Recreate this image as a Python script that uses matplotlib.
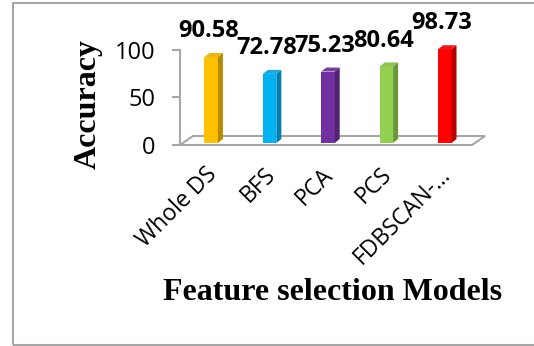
import numpy as np
import matplotlib
matplotlib.use("Agg")
import matplotlib.pyplot as plt
from matplotlib.patches import Polygon, Rectangle
from matplotlib.colors import to_rgb

models = ["Whole DS", "BFS", "PCA", "PCS", "FDBSCAN-…"]
accuracy = [90.58, 72.78, 75.23, 80.64, 98.73]
bar_colors = ["#FFC000", "#00B0F0", "#7030A0", "#92D050", "#FF0000"]
yticks = [0, 50, 100]

def shade(c, f):
    r, g, b = to_rgb(c)
    return (r * f, g * f, b * f)

def tint(c, f):
    r, g, b = to_rgb(c)
    return (r + (1 - r) * f, g + (1 - g) * f, b + (1 - b) * f)

W, H = 534, 346
fig = plt.figure(figsize=(W / 100, H / 100), dpi=100)
ax = fig.add_axes([180 / W, 1 - 145 / H, 292 / W, 95 / H])
ax.set_xlim(-0.5, 4.5)
ax.set_ylim(0, 100)

# pixel -> data unit helpers for the fake 3d depth
px_x = 5 / 292.0
px_y = 100 / 95.0
bar_dx, bar_dy = 5 * px_x, 4 * px_y
floor_dx, floor_dy = 13 * px_x, 9 * px_y
grey = "#a6a6a6"

# floor
xs = np.arange(len(models))
floor = Polygon([(-0.5, 0), (4.5, 0), (4.5 + floor_dx, floor_dy), (-0.5 + floor_dx, floor_dy)],
                closed=True, fill=False, edgecolor=grey, lw=1.5, clip_on=False, zorder=1)
ax.add_patch(floor)

bw = 0.23
x0 = xs + 2 * px_x
b0 = 2 * px_y
for x, v, c in zip(x0, accuracy, bar_colors):
    ax.bar(x, v, width=bw, bottom=b0, color=c, edgecolor="none", zorder=3, clip_on=False)
    side = Polygon([(x + bw / 2, b0), (x + bw / 2 + bar_dx, b0 + bar_dy),
                    (x + bw / 2 + bar_dx, b0 + v + bar_dy), (x + bw / 2, b0 + v)],
                   closed=True, facecolor=shade(c, 0.72), edgecolor="none", zorder=3, clip_on=False)
    top = Polygon([(x - bw / 2, b0 + v), (x + bw / 2, b0 + v),
                   (x + bw / 2 + bar_dx, b0 + v + bar_dy), (x - bw / 2 + bar_dx, b0 + v + bar_dy)],
                  closed=True, facecolor=tint(shade(c, 0.9), 0.1), edgecolor="none", zorder=3, clip_on=False)
    ax.add_patch(side)
    ax.add_patch(top)
    ax.annotate(f"{v:.2f}", (x, b0 + v + bar_dy), xytext=(-2, 7),
                textcoords="offset points", ha="center", va="bottom",
                fontsize=17, fontweight="bold", family="Open Sans", annotation_clip=False)

for s in ["top", "right", "bottom"]:
    ax.spines[s].set_visible(False)
ax.spines["left"].set_color(grey)
ax.spines["left"].set_linewidth(1.5)
ax.set_yticks(yticks)
ax.set_yticklabels([str(t) for t in yticks], fontsize=17, family="Open Sans")
ax.tick_params(axis="y", length=6, width=1.5, color=grey, pad=12)

ax.set_xticks(xs + 0.07)
ax.set_xticklabels(models, rotation=45, ha="right", va="center", rotation_mode="anchor",
                   fontsize=16.5, family="Open Sans")
ax.tick_params(axis="x", length=0, pad=19)

fig.text(88 / W, 1 - 104 / H, "Accuracy", rotation=90, ha="center", va="center",
         fontsize=23, fontweight="bold", family="Liberation Serif")
fig.text(333 / W, 1 - 292 / H, "Feature selection Models", ha="center", va="center",
         fontsize=23, fontweight="bold", family="Liberation Serif")

fig.add_artist(Rectangle((13 / W, 1.5 / H), 1, 342 / H, transform=fig.transFigure,
                         fill=False, edgecolor=grey, lw=1.5))

fig.savefig("out.png", dpi=100)
